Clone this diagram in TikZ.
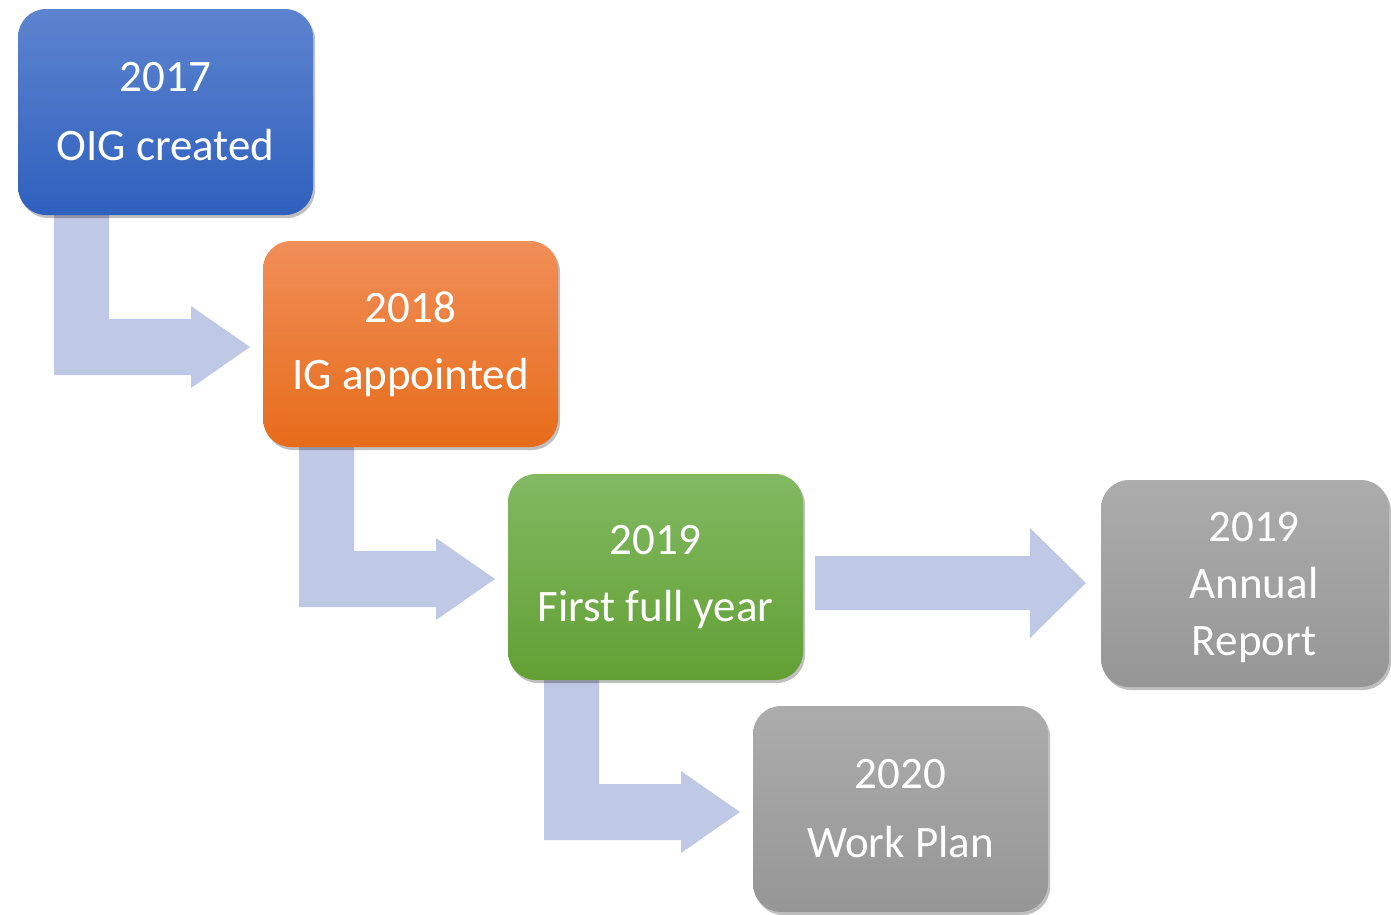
\documentclass[tikz,border=0pt]{standalone}
\usepackage{fontspec}
\setmainfont{Carlito}
\usetikzlibrary{shadows}
\definecolor{arrowc}{RGB}{191,200,228}
\definecolor{blueT}{RGB}{93,132,207}
\definecolor{blueB}{RGB}{46,96,190}
\definecolor{orT}{RGB}{240,142,88}
\definecolor{orB}{RGB}{231,108,26}
\definecolor{grT}{RGB}{130,185,98}
\definecolor{grB}{RGB}{98,160,52}
\definecolor{gyT}{RGB}{172,172,172}
\definecolor{gyB}{RGB}{150,150,150}
\tikzset{
  box/.style={rectangle, rounded corners=28pt, minimum width=295pt, minimum height=206pt,
    inner sep=0pt, align=center, text=white, font=\fontsize{45}{57}\selectfont,
    drop shadow={shadow xshift=2pt, shadow yshift=-3pt, opacity=0.25, fill=black}},
  boxtext/.style={inner sep=0pt, align=center, text=white, font=\fontsize{45}{57}\selectfont},
  flow/.style={fill=arrowc, draw=none},
}
\begin{document}
\begin{tikzpicture}[x=1pt,y=-1pt]
\useasboundingbox (0,0) rectangle (1391,914);
% bent arrows (drawn first, behind boxes)
\coordinate (a1) at (54,205);
\coordinate (a2) at (299,437);
\coordinate (a3) at (544,670);
\foreach \c in {a1,a2,a3}{
  \fill[flow] (\c) -- ++(55,0) -- ++(0,114) -- ++(82,0) -- ++(0,-13) -- ++(59,41)
    -- ++(-59,41) -- ++(0,-13) -- ++(-137,0) -- cycle;
}
% straight arrow
\coordinate (s0) at (815,556);
\fill[flow] (s0) -- ++(215,0) -- ++(0,-28) -- ++(56,55) -- ++(-56,55) -- ++(0,-28) -- ++(-215,0) -- cycle;
% boxes
\node[box, top color=blueT, bottom color=blueB] (b1) at (165.5,112) {2017\\[12pt]OIG created};
\node[box, top color=orT, bottom color=orB] (b2) at (410.5,344) {\raisebox{-2pt}{2018}\\[12pt]IG appointed};
\node[box, top color=grT, bottom color=grB] (b3) at (655.5,577) {\raisebox{-2pt}{2019}\\[12pt]First full year};
\node[box, minimum width=288pt, minimum height=207pt, top color=gyT, bottom color=gyB] (b4) at (1245,583.5) {};
\node[boxtext] (b4t) at (1254,588) {2019\\Annual\\Report};
\node[box, top color=gyT, bottom color=gyB] (b5) at (900.5,809) {2020\\[12pt]Work Plan};
\end{tikzpicture}
\end{document}
